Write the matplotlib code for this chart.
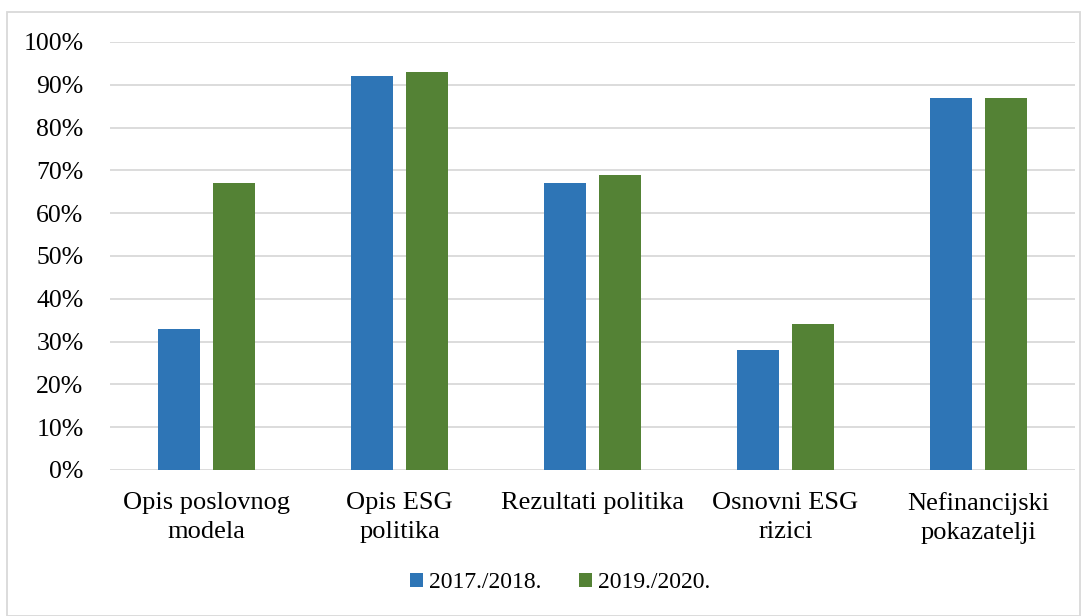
import matplotlib
matplotlib.use("Agg")
import matplotlib.pyplot as plt
import numpy as np
from matplotlib.patches import Rectangle

categories = ["Opis poslovnog\nmodela", "Opis ESG\npolitika", "Rezultati politika",
              "Osnovni ESG\nrizici", "Nefinancijski\npokazatelji"]
series_names = ["2017./2018.", "2019./2020."]
values_2017 = [33, 92, 67, 28, 87]
values_2019 = [67, 93, 69, 34, 87]
colors = ["#2E75B6", "#548235"]
yticks = [0, 10, 20, 30, 40, 50, 60, 70, 80, 90, 100]

plt.rcParams['font.family'] = ['Liberation Serif', 'DejaVu Serif']

fig = plt.figure(figsize=(10.88, 6.16), dpi=100)
ax = fig.add_axes([110/1088, 1 - 470/616, (1075-110)/1088, (470-42)/616])

x = np.arange(len(categories))
w = 0.218
off = (w + 0.067) / 2
ax.bar(x - off, values_2017, w, color=colors[0], label=series_names[0], zorder=3)
ax.bar(x + off, values_2019, w, color=colors[1], label=series_names[1], zorder=3)

ax.set_xlim(-0.5, len(categories) - 0.5)
ax.set_ylim(0, 100)
ax.set_yticks(yticks)
ax.set_yticklabels([f"{t}%" for t in yticks], fontsize=18.5)
ax.set_xticks(x)
ax.set_xticklabels(categories, fontsize=19, linespacing=1.42)
ax.tick_params(axis='both', length=0)
ax.tick_params(axis='y', pad=19)
ax.tick_params(axis='x', pad=16)
ax.grid(axis='y', color='#D9D9D9', linewidth=1.3, zorder=0)
for s in ax.spines.values():
    s.set_visible(False)

leg = fig.legend(loc='center', bbox_to_anchor=(560/1088, 1 - 583/616), ncol=2,
                 frameon=False, fontsize=17, handlelength=0.55, handleheight=0.55,
                 handletextpad=0.25, columnspacing=1.6)

fig.patches.append(Rectangle((7/1088, 0), (1080-7)/1088, 1 - 12/616, transform=fig.transFigure,
                             fill=False, edgecolor='#D9D9D9', linewidth=1.3))

fig.savefig("out.png", dpi=100)
